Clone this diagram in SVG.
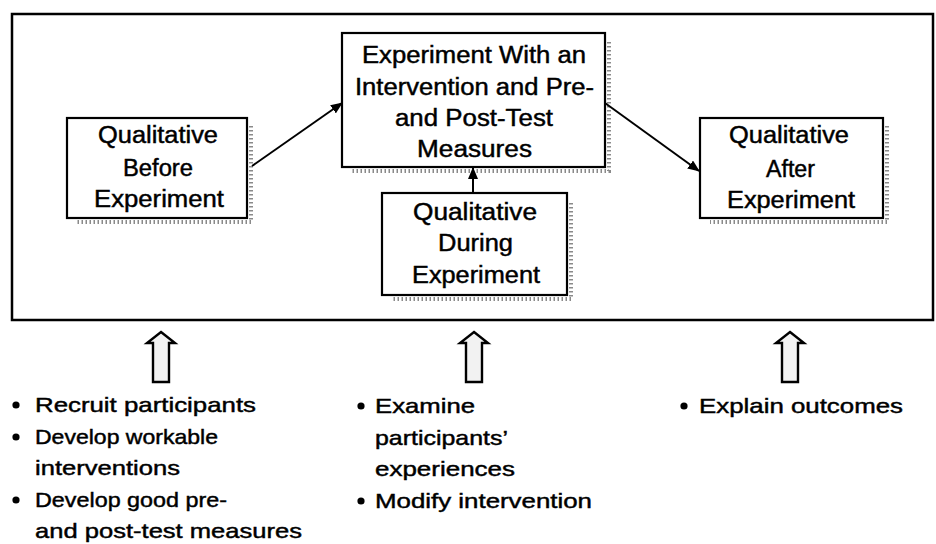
<svg xmlns="http://www.w3.org/2000/svg" width="936" height="544" viewBox="0 0 936 544">
  <style>
    .box { fill: #ffffff; stroke: #000000; stroke-width: 2.2; }
    .frame { fill: none; stroke: #000000; stroke-width: 2.5; }
    .shadow { fill: none; stroke: #8a8a8a; stroke-width: 4; stroke-dasharray: 1.5 2.5; }
    .t { font-family: "Liberation Sans", Arial, sans-serif; font-size: 23px; fill: #000000; stroke: #000000; stroke-width: 0.45; text-anchor: middle; }
    .b { font-family: "Liberation Sans", Arial, sans-serif; font-size: 21px; fill: #000000; stroke: #000000; stroke-width: 0.45; }
    .conn { fill: none; stroke: #000000; stroke-width: 2; }
    .hollow { fill: #f2f2f2; stroke: #000000; stroke-width: 2.4; stroke-linejoin: miter; }
    .dot { fill: #000000; }
  </style>
  <defs>
    <marker id="ah" viewBox="0 0 12 10" refX="11" refY="5" markerWidth="12" markerHeight="10" markerUnits="userSpaceOnUse" orient="auto">
      <path d="M0,0 L12,5 L0,10 Z" fill="#000000"/>
    </marker>
    <path id="upArrow" d="M0,0 L14,11 L8,11 L8,50 L-8,50 L-8,11 L-14,11 Z"/>
  </defs>

  <rect class="frame" x="12" y="14" width="921" height="306"/>

  <g id="node-before">
    <path class="shadow" d="M251,126 V222 H76"/>
    <rect class="box" x="67" y="118" width="180" height="100"/>
    <text class="t" x="158" y="143" textLength="120" lengthAdjust="spacingAndGlyphs">Qualitative</text>
    <text class="t" x="158" y="176" textLength="70" lengthAdjust="spacingAndGlyphs">Before</text>
    <text class="t" x="159" y="207" textLength="130" lengthAdjust="spacingAndGlyphs">Experiment</text>
  </g>

  <g id="node-experiment">
    <path class="shadow" d="M609,42 V171 H352"/>
    <rect class="box" x="342" y="33" width="263" height="134"/>
    <text class="t" x="474" y="63" textLength="224" lengthAdjust="spacingAndGlyphs">Experiment With an</text>
    <text class="t" x="474.5" y="95" textLength="239" lengthAdjust="spacingAndGlyphs">Intervention and Pre-</text>
    <text class="t" x="474" y="126" textLength="158" lengthAdjust="spacingAndGlyphs">and Post-Test</text>
    <text class="t" x="474.5" y="157" textLength="115" lengthAdjust="spacingAndGlyphs">Measures</text>
  </g>

  <g id="node-during">
    <path class="shadow" d="M571,203 V299 H392"/>
    <rect class="box" x="382" y="193" width="185" height="102"/>
    <text class="t" x="475" y="220" textLength="124" lengthAdjust="spacingAndGlyphs">Qualitative</text>
    <text class="t" x="475.5" y="251" textLength="75" lengthAdjust="spacingAndGlyphs">During</text>
    <text class="t" x="476" y="283" textLength="128" lengthAdjust="spacingAndGlyphs">Experiment</text>
  </g>

  <g id="node-after">
    <path class="shadow" d="M887,126 V222 H710"/>
    <rect class="box" x="700" y="118" width="183" height="100"/>
    <text class="t" x="789" y="143" textLength="120" lengthAdjust="spacingAndGlyphs">Qualitative</text>
    <text class="t" x="790.5" y="177" textLength="49" lengthAdjust="spacingAndGlyphs">After</text>
    <text class="t" x="791" y="208" textLength="128" lengthAdjust="spacingAndGlyphs">Experiment</text>
  </g>

  <g id="connectors">
    <line class="conn" x1="252" y1="166" x2="342" y2="103" marker-end="url(#ah)"/>
    <line class="conn" x1="605" y1="103" x2="699" y2="171" marker-end="url(#ah)"/>
    <line class="conn" x1="473" y1="193" x2="473" y2="168" marker-end="url(#ah)"/>
  </g>

  <g id="up-arrows">
    <use href="#upArrow" class="hollow" x="161" y="332"/>
    <use href="#upArrow" class="hollow" x="474" y="332"/>
    <use href="#upArrow" class="hollow" x="790" y="332"/>
  </g>

  <g id="list-before">
    <circle class="dot" cx="16" cy="405" r="3.6"/>
    <text class="b" x="35" y="412" textLength="221" lengthAdjust="spacingAndGlyphs">Recruit participants</text>
    <circle class="dot" cx="16" cy="437" r="3.6"/>
    <text class="b" x="35" y="444" textLength="183" lengthAdjust="spacingAndGlyphs">Develop workable</text>
    <text class="b" x="35" y="475" textLength="145" lengthAdjust="spacingAndGlyphs">interventions</text>
    <circle class="dot" cx="16" cy="500" r="3.6"/>
    <text class="b" x="35" y="507" textLength="192" lengthAdjust="spacingAndGlyphs">Develop good pre-</text>
    <text class="b" x="35" y="538" textLength="267" lengthAdjust="spacingAndGlyphs">and post-test measures</text>
  </g>

  <g id="list-during">
    <circle class="dot" cx="361" cy="406" r="3.6"/>
    <text class="b" x="375" y="413" textLength="100" lengthAdjust="spacingAndGlyphs">Examine</text>
    <text class="b" x="375" y="445" textLength="133" lengthAdjust="spacingAndGlyphs">participants’</text>
    <text class="b" x="375" y="476" textLength="140" lengthAdjust="spacingAndGlyphs">experiences</text>
    <circle class="dot" cx="361" cy="501" r="3.6"/>
    <text class="b" x="375" y="508" textLength="217" lengthAdjust="spacingAndGlyphs">Modify intervention</text>
  </g>

  <g id="list-after">
    <circle class="dot" cx="684" cy="406" r="3.6"/>
    <text class="b" x="699" y="413" textLength="204" lengthAdjust="spacingAndGlyphs">Explain outcomes</text>
  </g>
</svg>
